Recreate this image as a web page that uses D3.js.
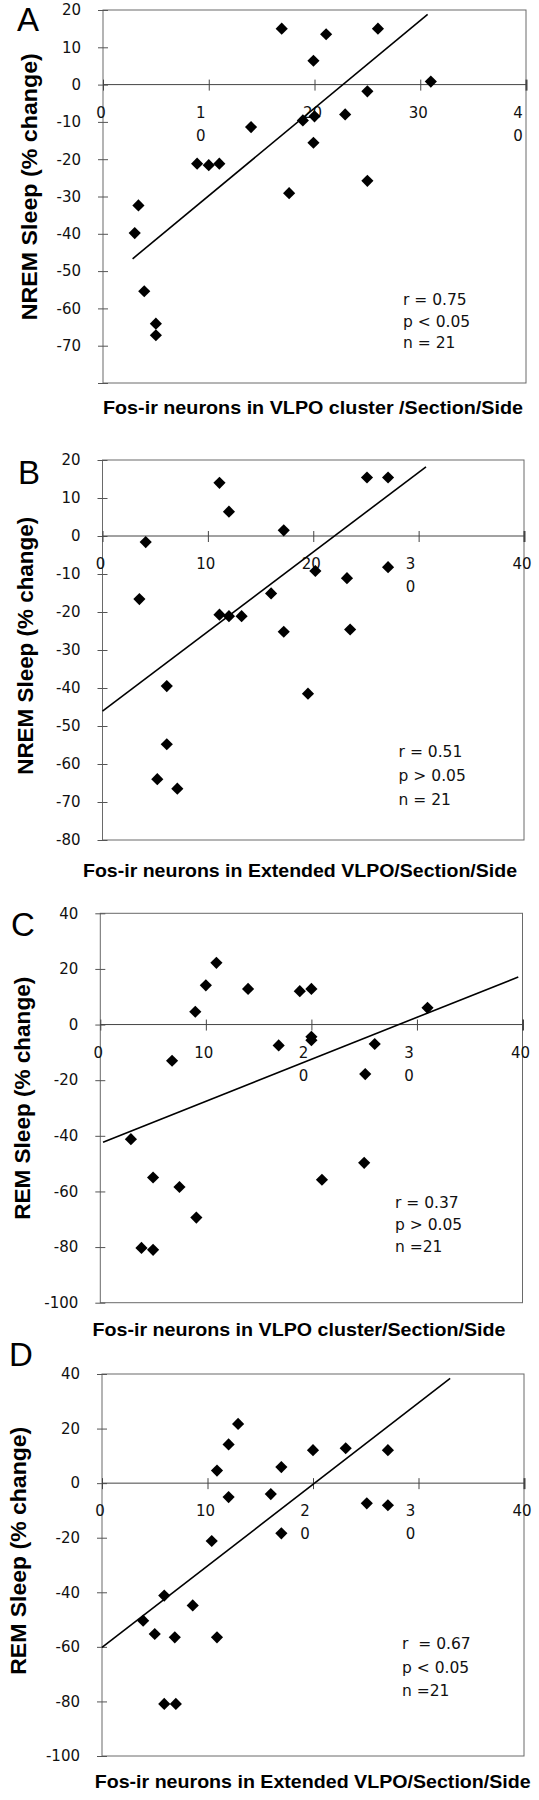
<!DOCTYPE html>
<html>
<head>
<meta charset="utf-8">
<script src="https://cdn.jsdelivr.net/npm/d3@7"></script>
<style>
  html, body { margin: 0; padding: 0; background: #fff; }
  svg { display: block; }
</style>
</head>
<body>
<svg id="chart" width="539" height="1800"></svg>
<script>
// ---------------- DATA ----------------
// Panel A: NREM vs Fos-ir neurons in VLPO cluster
const aFos   = [16.9, 21.1, 26.0, 19.9, 31.0, 25.0, 22.9, 20.0, 18.9, 14.0, 19.9, 8.9, 10.0, 11.0, 25.0, 17.6, 3.35, 3.0, 3.9, 5.0, 5.0];
const aSleep = [15.0, 13.5, 15.0, 6.4, 0.8, -1.8, -8.0, -8.5, -9.6, -11.4, -15.6, -21.2, -21.6, -21.2, -25.8, -29.1, -32.4, -39.8, -55.4, -64.1, -67.2];
const aFitX  = [2.8, 30.7];
const aFitY  = [-46.7, 18.8];
const aStats = ["r = 0.75", "p < 0.05", "n = 21"];

// Panel B: NREM vs Fos-ir neurons in Extended VLPO
const bFos   = [11.1, 12.0, 17.2, 25.1, 27.1, 4.1, 27.1, 20.2, 23.2, 16.0, 3.5, 11.1, 12.0, 13.2, 17.2, 23.5, 6.1, 19.5, 6.1, 5.2, 7.1];
const bSleep = [14.0, 6.4, 1.5, 15.4, 15.4, -1.6, -8.2, -9.2, -11.1, -15.1, -16.6, -20.7, -21.1, -21.1, -25.2, -24.6, -39.5, -41.5, -54.8, -64.0, -66.5];
const bFitX  = [0, 30.7];
const bFitY  = [-46.1, 18.2];
const bStats = ["r = 0.51", "p > 0.05", "n = 21"];

// Panel C: REM vs Fos-ir neurons in VLPO cluster
const cFos   = [11.0, 10.0, 9.0, 14.0, 18.9, 20.0, 31.0, 20.0, 20.0, 16.9, 26.0, 6.8, 25.1, 2.9, 25.0, 5.0, 21.0, 7.5, 9.1, 3.9, 5.0];
const cSleep = [22.2, 14.1, 4.6, 12.8, 12.0, 12.8, 6.0, -4.4, -5.6, -7.5, -7.0, -13.0, -17.8, -41.2, -49.7, -55.0, -55.8, -58.4, -69.4, -80.3, -81.0];
const cFitX  = [0.26, 39.6];
const cFitY  = [-42.3, 17.1];
const cStats = ["r = 0.37", "p > 0.05", "n =21"];

// Panel D: REM vs Fos-ir neurons in Extended VLPO
const dFos   = [12.9, 12.0, 10.9, 17.0, 20.0, 23.1, 27.1, 12.0, 16.0, 25.1, 27.1, 17.0, 10.4, 5.9, 8.6, 3.9, 5.0, 6.9, 10.9, 5.9, 7.0];
const dSleep = [21.7, 14.2, 4.6, 5.9, 12.1, 12.8, 12.1, -5.1, -4.0, -7.4, -8.1, -18.4, -21.2, -41.2, -44.8, -50.4, -55.3, -56.5, -56.5, -80.9, -80.9];
const dFitX  = [0, 33.0];
const dFitY  = [-60.2, 38.4];
const dStats = ["r  = 0.67", "p < 0.05", "n =21"];

// Axis ticks
const xTickValues  = [0, 10, 20, 30, 40];
const aXTickLabels = [["0"], ["1", "0"], ["20"], ["30"], ["4", "0"]];
const bXTickLabels = [["0"], ["10"], ["20"], ["3", "0"], ["40"]];
const cXTickLabels = [["0"], ["10"], ["2", "0"], ["3", "0"], ["40"]];
const dXTickLabels = [["0"], ["10"], ["2", "0"], ["3", "0"], ["40"]];

const nremYTicks       = [20, 10, 0, -10, -20, -30, -40, -50, -60, -70, -80];
const aYTickLabels     = ["20", "10", "0", "-10", "-20", "-30", "-40", "-50", "-60", "-70", ""];
const bYTickLabels     = ["20", "10", "0", "-10", "-20", "-30", "-40", "-50", "-60", "-70", "-80"];
const remYTicks        = [40, 20, 0, -20, -40, -60, -80, -100];
const remYTickLabels   = ["40", "20", "0", "-20", "-40", "-60", "-80", "-100"];

const nremTitle = "NREM Sleep (% change)";
const remTitle  = "REM Sleep (% change)";
const xTitleA = "Fos-ir neurons in VLPO cluster /Section/Side";
const xTitleB = "Fos-ir neurons in Extended VLPO/Section/Side";
const xTitleC = "Fos-ir neurons in VLPO cluster/Section/Side";
const xTitleD = "Fos-ir neurons in Extended VLPO/Section/Side";

// ---------------- PANELS ----------------
const panels = [
  { letter: "A", xs: aFos, ys: aSleep, fitX: aFitX, fitY: aFitY, stats: aStats,
    yTicks: nremYTicks, yLabels: aYTickLabels, yDomain: [-80, 20], xLabels: aXTickLabels,
    yTitle: nremTitle, xTitle: xTitleA,
    L: { x0: 103, x1: 526, top: 10, bot: 383, lx: 17, ly: 31,
         ytx: 36.5, yty: 186.7, ytl: 267, xtx: 313, xty: 414, xtl: 420,
         sx: 403, sy: 305, ss: 21.7 } },
  { letter: "B", xs: bFos, ys: bSleep, fitX: bFitX, fitY: bFitY, stats: bStats,
    yTicks: nremYTicks, yLabels: bYTickLabels, yDomain: [-80, 20], xLabels: bXTickLabels,
    yTitle: nremTitle, xTitle: xTitleB,
    L: { x0: 102.5, x1: 524, top: 460, bot: 840, lx: 18, ly: 484,
         ytx: 33, yty: 645.8, ytl: 258, xtx: 300, xty: 877, xtl: 434,
         sx: 398.6, sy: 757, ss: 24 } },
  { letter: "C", xs: cFos, ys: cSleep, fitX: cFitX, fitY: cFitY, stats: cStats,
    yTicks: remYTicks, yLabels: remYTickLabels, yDomain: [-100, 40], xLabels: cXTickLabels,
    yTitle: remTitle, xTitle: xTitleC,
    L: { x0: 100.3, x1: 522.5, top: 913.3, bot: 1302.7, lx: 11, ly: 936,
         ytx: 30.4, yty: 1098.3, ytl: 243, xtx: 299, xty: 1336, xtl: 413,
         sx: 395, sy: 1208, ss: 22 } },
  { letter: "D", xs: dFos, ys: dSleep, fitX: dFitX, fitY: dFitY, stats: dStats,
    yTicks: remYTicks, yLabels: remYTickLabels, yDomain: [-100, 40], xLabels: dXTickLabels,
    yTitle: remTitle, xTitle: xTitleD,
    L: { x0: 102, x1: 524, top: 1374, bot: 1756, lx: 9, ly: 1366,
         ytx: 26.3, yty: 1550.8, ytl: 248, xtx: 312.7, xty: 1788, xtl: 436,
         sx: 402, sy: 1649, ss: 23.7 } }
];

const svg = d3.select("#chart");
svg.append("rect").attr("width", 539).attr("height", 1800).attr("fill", "#fff");

const numFont = "'DejaVu Sans', sans-serif";
const boldFont = "'Liberation Sans', Arial, Helvetica, sans-serif";
const diamond = d3.symbol().type(d3.symbolSquare).size(74);

panels.forEach(p => {
  const L = p.L;
  const x = d3.scaleLinear().domain([0, 40]).range([L.x0, L.x1]);
  const y = d3.scaleLinear().domain(p.yDomain).range([L.bot, L.top]);
  const g = svg.append("g");

  // frame
  g.append("rect")
    .attr("x", L.x0).attr("y", L.top)
    .attr("width", L.x1 - L.x0).attr("height", L.bot - L.top)
    .attr("fill", "none").attr("stroke", "#6a6a6a").attr("stroke-width", 1);

  // y axis (ticks crossing the left frame)
  const yAxis = d3.axisLeft(y)
    .tickValues(p.yTicks)
    .tickSize(5)
    .tickPadding(17)
    .tickFormat((d, i) => p.yLabels[i]);
  const yg = g.append("g").attr("transform", `translate(${L.x0},0)`).call(yAxis);
  yg.select(".domain").remove();
  yg.selectAll(".tick line").attr("x1", 5).attr("stroke", "#555");
  yg.selectAll(".tick text")
    .attr("font-family", numFont).attr("font-size", 15).attr("fill", "#111");

  // zero line with crossing ticks
  const y0 = y(0);
  const xAxis = d3.axisBottom(x).tickValues(xTickValues).tickSize(6).tickFormat("");
  const xg = g.append("g").attr("transform", `translate(0,${y0})`).call(xAxis);
  xg.select(".domain").attr("stroke", "#444").attr("d", `M${L.x0},0H${L.x1}`);
  xg.selectAll(".tick line")
    .attr("y1", -5).attr("y2", 6).attr("stroke", "#444")
    .attr("stroke-width", d => d === 40 ? 2 : 1);
  xg.selectAll(".tick").each(function(d, i) {
    const lines = p.xLabels[i];
    const dx = lines.length > 1 ? -8.5 : -2.5;
    const t = d3.select(this).select("text")
      .attr("y", 0).attr("dy", null)
      .attr("font-family", numFont).attr("font-size", 15).attr("fill", "#111")
      .attr("text-anchor", "middle");
    t.text(null);
    lines.forEach((s, k) => {
      t.append("tspan").attr("x", dx).attr("y", 33 + k * 23).text(s);
    });
  });

  // regression line
  const line = d3.line().x(d => x(d[0])).y(d => y(d[1]));
  g.append("path")
    .datum(d3.zip(p.fitX, p.fitY))
    .attr("d", line)
    .attr("fill", "none").attr("stroke", "#000").attr("stroke-width", 1.6);

  // points
  g.selectAll(".pt").data(d3.zip(p.xs, p.ys)).join("path")
    .attr("class", "pt")
    .attr("d", diamond)
    .attr("transform", d => `translate(${x(d[0])},${y(d[1])}) rotate(45)`)
    .attr("fill", "#000");

  // stats text
  p.stats.forEach((s, k) => {
    g.append("text")
      .attr("x", L.sx).attr("y", L.sy + k * L.ss)
      .attr("font-family", numFont).attr("font-size", 15.5).attr("fill", "#111")
      .style("white-space", "pre")
      .attr("xml:space", "preserve")
      .text(s);
  });

  // panel letter
  g.append("text")
    .attr("x", L.lx).attr("y", L.ly)
    .attr("font-family", boldFont).attr("font-size", 33).attr("fill", "#000")
    .text(p.letter);

  // y title
  g.append("text")
    .attr("transform", `translate(${L.ytx},${L.yty}) rotate(-90)`)
    .attr("text-anchor", "middle")
    .attr("font-family", boldFont).attr("font-weight", "bold").attr("font-size", 22)
    .attr("textLength", L.ytl).attr("lengthAdjust", "spacingAndGlyphs")
    .attr("fill", "#000")
    .text(p.yTitle);

  // x title
  g.append("text")
    .attr("x", L.xtx).attr("y", L.xty)
    .attr("text-anchor", "middle")
    .attr("font-family", boldFont).attr("font-weight", "bold").attr("font-size", 18.5)
    .attr("textLength", L.xtl).attr("lengthAdjust", "spacingAndGlyphs")
    .attr("fill", "#000")
    .text(p.xTitle);
});
</script>
</body>
</html>
